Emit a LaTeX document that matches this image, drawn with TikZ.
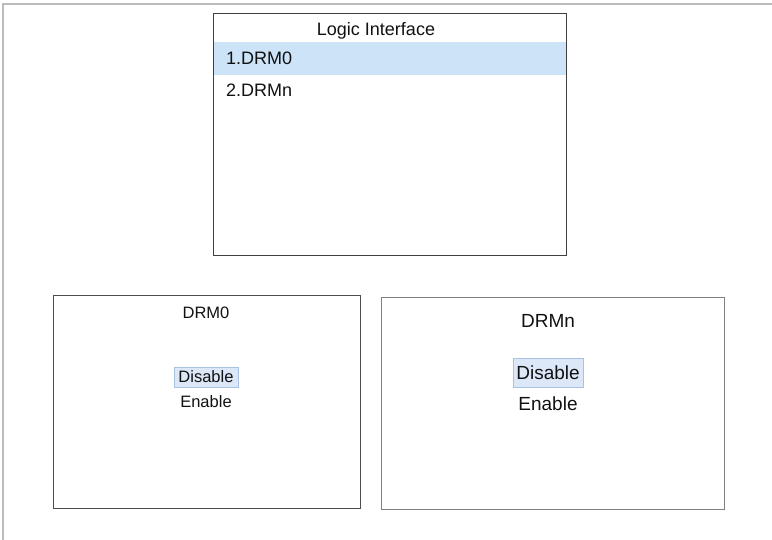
\documentclass[tikz,border=0pt]{standalone}
\usepackage{fontspec}
\setmainfont{Liberation Sans}
\definecolor{band}{HTML}{CCE3F8}
\definecolor{selfill}{HTML}{DCE8F8}
\definecolor{selline}{HTML}{A8C2E6}
\definecolor{frame}{HTML}{BBBBBB}
\definecolor{txt}{HTML}{111111}
\begin{document}
\begin{tikzpicture}[x=1pt,y=-1pt,
  panel/.style={draw=#1,anchor=north west,inner sep=0pt},
  lbl/.style={inner sep=0pt,text=txt},
  sel/.style={fill=selfill,draw=selline,line width=0.8pt,inner sep=0pt,text=txt}]
\useasboundingbox (0,0) rectangle (772,540);
% outer frame lines
\draw[frame,line width=2pt] (3,540) -- (3,4) -- (772,4);
% top panel
\node[fill=band,anchor=north west,minimum width=353pt,minimum height=33pt,inner sep=0pt] (band) at (213,42) {};
\node[panel={black!75},line width=0.8pt,minimum width=353pt,minimum height=242pt] (top) at (213,13) {};
\node[lbl,font=\fontsize{18}{20}\selectfont] (title) at (376,31) {Logic Interface};
\node[lbl,anchor=west,font=\fontsize{18}{20}\selectfont] (i1) at (226,58.5) {1.DRM0};
\node[lbl,anchor=west,font=\fontsize{18}{20}\selectfont] (i2) at (226,90) {2.DRMn};
% left panel
\node[panel={black!70},line width=0.8pt,minimum width=307pt,minimum height=213pt] (left) at (53,295) {};
\node[lbl,font=\fontsize{16.5}{18}\selectfont] (lt) at (206,313) {DRM0};
\node[sel,minimum width=64pt,minimum height=20pt,font=\fontsize{16.5}{18}\selectfont] (ld) at (206,377) {Disable};
\node[lbl,font=\fontsize{16.5}{18}\selectfont] (le) at (206,402) {Enable};
% right panel
\node[panel={black!50},line width=1.3pt,minimum width=343pt,minimum height=212pt] (right) at (381,297) {};
\node[lbl,font=\fontsize{19}{21}\selectfont] (rt) at (548,321) {DRMn};
\node[sel,minimum width=70pt,minimum height=29pt,font=\fontsize{19}{21}\selectfont] (rd) at (548,372.5) {Disable};
\node[lbl,font=\fontsize{19}{21}\selectfont] (re) at (548,404) {Enable};
\end{tikzpicture}
\end{document}
